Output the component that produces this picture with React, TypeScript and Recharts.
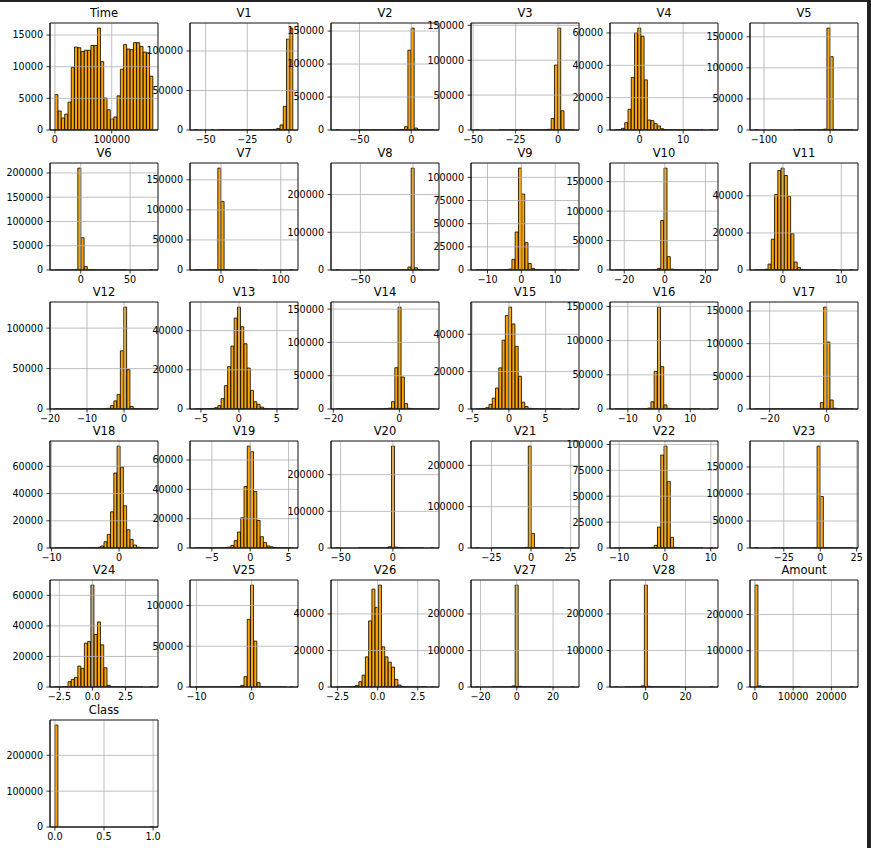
import React from "react";
import { BarChart, Bar, XAxis, YAxis, CartesianGrid, ReferenceArea } from "recharts";

const NAMES = ["Time","V1","V2","V3","V4","V5","V6","V7","V8","V9","V10","V11","V12","V13","V14","V15","V16","V17","V18","V19","V20","V21","V22","V23","V24","V25","V26","V27","V28","Amount","Class"];

const RANGES: [number, number][] = [
  [0, 172792], [-56.40751, 2.45493], [-72.715728, 22.057729], [-48.325589, 9.382558],
  [-5.683171, 16.875344], [-113.743307, 34.801666], [-26.160506, 73.301626], [-43.557242, 120.589494],
  [-73.216718, 20.007208], [-13.434066, 15.594995], [-24.588262, 23.745136], [-4.797473, 12.018913],
  [-18.683715, 7.848392], [-5.791881, 7.126883], [-19.214325, 10.526766], [-4.498945, 8.877742],
  [-14.129855, 17.315112], [-25.162799, 9.253526], [-9.498746, 5.041069], [-7.213527, 5.591971],
  [-54.49772, 39.420904], [-34.830382, 27.202839], [-10.933144, 10.50309], [-44.807735, 22.528412],
  [-2.836627, 4.584549], [-10.295397, 7.519589], [-2.604551, 3.517346], [-22.565679, 31.612198],
  [-15.430084, 33.847808], [0, 25691.16], [0, 1],
];

const X_TICKS: number[][] = [
  [0, 100000], [-50, -25, 0], [-50, 0], [-50, -25, 0], [0, 10], [-100, 0],
  [0, 50], [0, 100], [-50, 0], [-10, 0, 10], [-20, 0, 20], [0, 10],
  [-20, -10, 0], [-5, 0, 5], [-20, 0], [-5, 0, 5], [-10, 0, 10], [-20, 0],
  [-10, 0], [-5, 0, 5], [-50, 0], [-25, 0, 25], [-10, 0, 10], [-25, 0, 25],
  [-2.5, 0, 2.5], [-10, 0], [-2.5, 0, 2.5], [-20, 0, 20], [0, 20], [0, 10000, 20000],
  [0, 0.5, 1],
];

const Y_TICKS: number[][] = [
  [0, 5000, 10000, 15000], [0, 50000, 100000], [0, 50000, 100000, 150000], [0, 50000, 100000, 150000],
  [0, 20000, 40000, 60000], [0, 50000, 100000, 150000],
  [0, 50000, 100000, 150000, 200000], [0, 50000, 100000, 150000], [0, 100000, 200000],
  [0, 25000, 50000, 75000, 100000], [0, 50000, 100000, 150000], [0, 20000, 40000],
  [0, 50000, 100000], [0, 20000, 40000], [0, 50000, 100000, 150000], [0, 20000, 40000],
  [0, 50000, 100000, 150000], [0, 50000, 100000, 150000],
  [0, 20000, 40000, 60000], [0, 20000, 40000, 60000], [0, 100000, 200000], [0, 100000, 200000],
  [0, 25000, 50000, 75000, 100000], [0, 50000, 100000, 150000],
  [0, 20000, 40000, 60000], [0, 50000, 100000], [0, 20000, 40000], [0, 100000, 200000],
  [0, 100000, 200000], [0, 100000, 200000], [0, 100000, 200000],
];

const COUNTS_TIME = [5600,3000,1900,2500,4400,9900,13100,13000,12400,12600,12600,13350,13350,16100,10800,5050,3200,1750,2070,5400,9600,13500,12800,12700,13800,13800,13200,12300,12200,8500];
const COUNTS_V1 = [1,0,0,0,0,1,0,1,1,2,2,3,4,6,8,12,18,25,35,50,80,120,220,450,850,2000,6400,30000,115000,129000];
const COUNTS_V2 = [1,0,0,0,0,0,0,1,1,1,2,2,3,4,6,8,15,30,80,250,800,5000,121000,154500,3000,150,30,8,3,1];
const COUNTS_V3 = [1,0,0,0,0,0,0,1,1,1,2,2,3,4,5,8,12,20,40,80,150,400,1000,16500,93000,146000,27500,300,20,2];
const COUNTS_V4 = [20,200,1000,4500,12800,32500,60000,63000,58000,31000,6200,5800,3900,2500,800,300,120,60,30,15,8,5,3,2,1,1,1,0,0,1];
const COUNTS_V5 = [1,0,0,0,0,0,0,0,0,0,0,0,1,1,2,3,5,10,25,100,300,1500,164000,118000,800,150,40,10,3,1];
const COUNTS_V6 = [1,1,2,5,15,50,300,210000,66500,7000,600,150,60,30,15,8,5,3,2,1,1,1,0,0,0,0,0,0,0,1];
const COUNTS_V7 = [1,1,2,3,10,80,500,169500,114000,600,100,30,10,5,3,2,1,1,1,0,0,0,0,0,0,0,0,0,0,1];
const COUNTS_V8 = [1,0,0,0,0,0,0,0,0,0,1,1,2,3,4,6,10,15,25,40,80,300,8000,270000,6000,400,100,20,5,1];
const COUNTS_V9 = [1,2,3,5,8,12,20,40,80,200,1000,11500,41000,110000,82000,29500,7000,1800,400,100,40,20,10,6,4,2,1,1,0,1];
const COUNTS_V10 = [1,1,2,2,3,4,5,8,12,20,40,150,500,2800,84000,173000,22700,1500,300,80,30,10,5,3,2,1,1,0,0,1];
const COUNTS_V11 = [2,10,60,400,3200,16600,40700,53700,55000,51000,39800,19600,4300,1300,300,100,40,20,10,6,4,3,2,1,1,0,0,0,0,1];
const COUNTS_V12 = [1,1,2,3,5,8,10,15,20,30,40,60,80,100,150,300,900,4200,10000,18000,72000,126000,48500,3200,500,80,20,5,2,1];
const COUNTS_V13 = [5,20,50,100,200,300,700,1700,5300,11900,21600,32100,46400,52000,42000,33300,20900,9500,3700,2400,1000,300,100,40,15,8,4,2,1,1];
const COUNTS_V14 = [1,1,2,3,5,8,10,15,25,40,60,80,100,150,250,500,1300,11000,62000,153000,48000,8000,1000,200,50,15,5,2,1,1];
const COUNTS_V15 = [10,60,300,700,2500,5800,11200,22000,36800,50000,54500,45500,33500,17500,3600,1300,400,120,50,20,10,5,3,2,1,1,0,0,0,1];
const COUNTS_V16 = [1,1,2,3,5,10,20,50,100,300,1300,10500,55000,149000,62000,6000,1000,250,60,20,8,4,2,1,1,1,0,0,0,1];
const COUNTS_V17 = [1,1,2,3,4,5,6,8,10,12,15,20,25,30,40,60,90,150,250,600,9700,156000,102500,13800,1200,300,60,15,4,1];
const COUNTS_V18 = [1,2,3,5,8,12,20,30,50,80,100,80,200,500,1500,4600,10000,26600,55100,74900,59500,31000,13400,6300,2200,600,150,40,10,3];
const COUNTS_V19 = [1,2,3,5,10,20,40,60,100,200,600,1800,5000,10900,20600,41900,69500,65600,38500,18800,7700,3800,1400,800,300,100,30,10,3,1];
const COUNTS_V20 = [1,0,0,0,0,0,0,1,1,2,3,5,10,30,80,300,3500,278000,2500,400,80,25,10,4,2,1,1,0,0,1];
const COUNTS_V21 = [1,0,0,0,0,1,1,2,3,5,8,15,30,60,200,1500,246600,35300,1000,150,40,15,6,3,2,1,1,0,0,1];
const COUNTS_V22 = [1,1,2,3,5,8,12,20,40,100,200,500,2600,20200,89700,98400,64100,10300,600,100,30,10,5,3,2,1,1,0,0,1];
const COUNTS_V23 = [1,0,0,0,0,1,1,1,2,3,4,6,8,12,20,30,50,100,500,188700,95300,400,80,20,6,3,2,1,1,1];
const COUNTS_V24 = [5,30,100,300,3500,5000,6300,13700,12200,28700,29800,66700,34300,42600,27600,12600,1100,150,50,20,10,5,3,2,1,1,1,0,0,1];
const COUNTS_V25 = [1,1,2,3,4,5,6,8,10,20,40,80,200,600,2000,12700,83000,125000,56300,5300,600,150,40,10,4,2,1,1,0,1];
const COUNTS_V26 = [1,3,10,30,80,200,900,2900,6500,16500,36200,53600,43600,55800,22000,16500,13600,10900,4200,1100,300,80,30,10,4,2,1,1,0,1];
const COUNTS_V27 = [1,0,0,0,0,1,1,2,4,10,300,3000,279000,2000,300,80,30,10,5,3,2,1,1,0,0,0,0,0,0,1];
const COUNTS_V28 = [1,0,0,1,2,5,10,40,3000,279000,2000,400,100,30,10,5,3,2,1,1,0,0,0,0,0,0,0,0,0,1];
const COUNTS_AMOUNT = [281000,3000,500,150,60,30,15,8,5,3,2,1,1,1,0,0,0,0,0,0,0,0,0,0,0,0,0,0,0,1];
const COUNTS_CLASS = [284315,0,0,0,0,0,0,0,0,0,0,0,0,0,0,0,0,0,0,0,0,0,0,0,0,0,0,0,0,492];

const COUNTS = [COUNTS_TIME, COUNTS_V1, COUNTS_V2, COUNTS_V3, COUNTS_V4, COUNTS_V5, COUNTS_V6, COUNTS_V7,
  COUNTS_V8, COUNTS_V9, COUNTS_V10, COUNTS_V11, COUNTS_V12, COUNTS_V13, COUNTS_V14, COUNTS_V15, COUNTS_V16,
  COUNTS_V17, COUNTS_V18, COUNTS_V19, COUNTS_V20, COUNTS_V21, COUNTS_V22, COUNTS_V23, COUNTS_V24, COUNTS_V25,
  COUNTS_V26, COUNTS_V27, COUNTS_V28, COUNTS_AMOUNT, COUNTS_CLASS];

const COL_X = [50, 190, 331, 471, 610, 750];
const ROW_Y = [23, 163, 302, 441, 580, 720];
const PW = 108;
const PH = 107;
const ML = 50;
const MT = 30;
const FONT = "DejaVu Sans";

function makeFmt(ticks: number[]) {
  const dec = ticks.some((t) => !Number.isInteger(t));
  return (v: number) => {
    const s = dec ? Math.abs(v).toFixed(1) : String(Math.abs(v));
    return v < 0 ? "\u2212" + s : s;
  };
}

function Hist({ idx }: { idx: number }) {
  const [lo, hi] = RANGES[idx];
  const counts = COUNTS[idx];
  const n = counts.length;
  const bw = (hi - lo) / n;
  const data = counts.map((c, i) => ({ x: lo + (i + 0.5) * bw, y: c }));
  const pad = (hi - lo) * 0.05;
  const x0 = lo - pad;
  const x1 = hi + pad;
  const ymax = Math.max(...counts) * 1.05;
  const col = idx % 6;
  const row = Math.floor(idx / 6);
  const left = COL_X[col] - ML;
  const top = ROW_Y[row] - MT;
  const tickStyle = { fontSize: 9.6, fill: "#000", fontFamily: FONT };
  return (
    <div style={{ position: "absolute", left, top, width: ML + PW + 10, height: MT + PH + 25 }}>
      <div
        style={{
          position: "absolute",
          left: ML - 30,
          width: PW + 60,
          top: MT - 5.5 - 9.7,
          fontSize: 11.5,
          lineHeight: "11.5px",
          textAlign: "center",
          fontFamily: FONT,
          color: "#000",
          whiteSpace: "nowrap",
        }}
      >
        {NAMES[idx]}
      </div>
      <BarChart
        width={ML + PW + 10}
        height={MT + PH + 25}
        data={data}
        margin={{ top: MT, right: 10, bottom: 0, left: 0 }}
        barCategoryGap={0}
        barGap={0}
        style={{ position: "absolute", left: 0, top: 0 }}
      >
        <XAxis
          dataKey="x"
          type="number"
          domain={[x0, x1]}
          ticks={X_TICKS[idx]}
          allowDataOverflow
          interval={0}
          height={25}
          tickSize={3.5}
          tickMargin={3}
          tick={tickStyle}
          tickFormatter={makeFmt(X_TICKS[idx])}
          axisLine={{ stroke: "#000", strokeWidth: 0.8 }}
          tickLine={{ stroke: "#000", strokeWidth: 0.8 }}
        />
        <YAxis
          type="number"
          domain={[0, ymax]}
          ticks={Y_TICKS[idx]}
          allowDataOverflow
          interval={0}
          width={ML}
          tickSize={3.5}
          tickMargin={3.5}
          tick={tickStyle}
          tickFormatter={makeFmt(Y_TICKS[idx])}
          axisLine={{ stroke: "#000", strokeWidth: 0.8 }}
          tickLine={{ stroke: "#000", strokeWidth: 0.8 }}
        />
        <Bar dataKey="y" fill="#FFA500" stroke="#000" strokeWidth={0.8} isAnimationActive={false} />
        <CartesianGrid stroke="#b0b0b0" strokeWidth={0.8} fill="none" zIndex={350} />
        <ReferenceArea
          x1={x0}
          x2={x1}
          y1={0}
          y2={ymax}
          fill="none"
          fillOpacity={0}
          stroke="#000"
          strokeWidth={0.8}
          strokeOpacity={1}
          ifOverflow="visible"
          zIndex={550}
        />
      </BarChart>
    </div>
  );
}

export default function App() {
  return (
    <div
      style={{
        position: "absolute",
        left: 0,
        top: 0,
        width: 871,
        height: 848,
        background: "#fff",
        overflow: "hidden",
        fontFamily: FONT,
      }}
    >
      {NAMES.map((_, i) => (
        <Hist key={i} idx={i} />
      ))}
      <div
        style={{
          position: "absolute",
          left: 0,
          top: 0,
          width: 871,
          height: 848,
          boxSizing: "border-box",
          borderTop: "2px solid #222",
          borderRight: "4px solid #222",
          pointerEvents: "none",
        }}
      />
    </div>
  );
}
